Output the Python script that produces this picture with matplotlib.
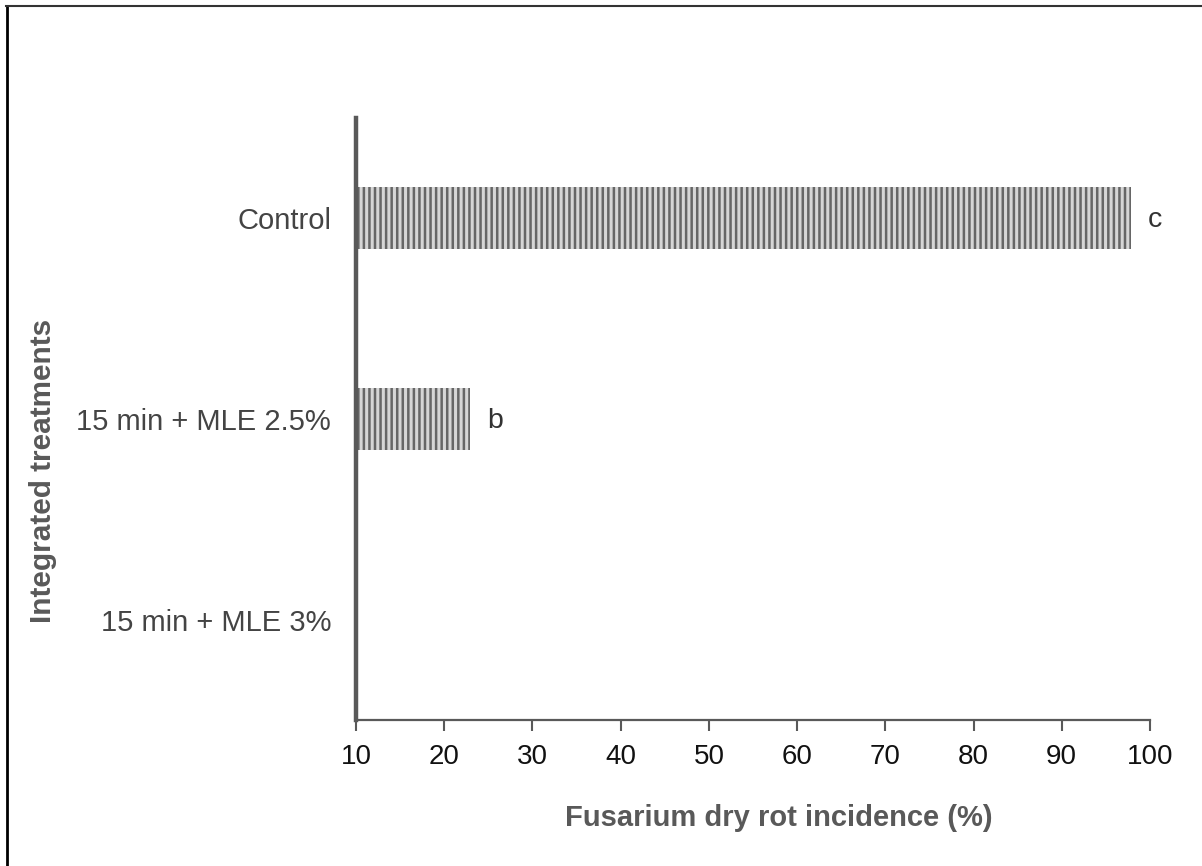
import matplotlib.pyplot as plt
from matplotlib.lines import Line2D

# Datos
tratamientos = ["Control", "15 min + MLE 2.5%", "15 min + MLE 3%"]
incidencia = [97.8, 22.9, 0.0]
letras = ["c", "b", ""]
ticks_x = [10, 20, 30, 40, 50, 60, 70, 80, 90, 100]

plt.rcParams["font.family"] = ["Liberation Sans", "DejaVu Sans"]
plt.rcParams["hatch.linewidth"] = 1.8

GRIS = "#595959"

fig = plt.figure(figsize=(12.02, 8.66), dpi=100)
ax = fig.add_axes([0.2962, 0.1686, 0.9567 - 0.2962, 0.8637 - 0.1686])

pos = list(range(len(tratamientos)))
barras = ax.barh(pos, incidencia, height=0.31, color="#d6d6d6",
                 edgecolor="#666666", linewidth=0, hatch="|||", zorder=2)

for b, letra in zip(barras, letras):
    if letra:
        ax.text(b.get_width() + 2.0, b.get_y() + b.get_height() / 2 + 0.01, letra,
                ha="left", va="center", fontsize=20.5, color="#333333")

ax.set_xlim(10, 100)
ax.set_ylim(-0.5, len(tratamientos) - 0.5)
ax.invert_yaxis()
ax.set_xticks(ticks_x)
ax.set_yticks(pos)
ax.set_yticklabels(tratamientos)

ax.tick_params(axis="x", direction="out", length=8, width=1.5, color=GRIS,
               labelsize=20, labelcolor="#111111", pad=9)
ax.tick_params(axis="y", length=0, labelsize=21, labelcolor="#444444", pad=18)

for s in ["top", "right"]:
    ax.spines[s].set_visible(False)
ax.spines["left"].set_linewidth(3.2)
ax.spines["left"].set_color(GRIS)
ax.spines["bottom"].set_linewidth(1.6)
ax.spines["bottom"].set_color(GRIS)

ax.set_xlabel("Fusarium dry rot incidence (%)", fontsize=21, fontweight="bold",
              color=GRIS)
ax.xaxis.set_label_coords(0.533, -0.139)
fig.text(0.036, 0.456, "Integrated treatments", rotation=90, fontsize=21.4,
         fontweight="bold", color=GRIS, ha="center", va="center")

# Marco de la figura (solo arriba e izquierda)
fig.add_artist(Line2D([0.006, 0.006], [0.0, 0.993], color="black", lw=2))
fig.add_artist(Line2D([0.005, 1.0], [0.993, 0.993], color="#333333", lw=1.5))

fig.savefig("out.png", dpi=100)
